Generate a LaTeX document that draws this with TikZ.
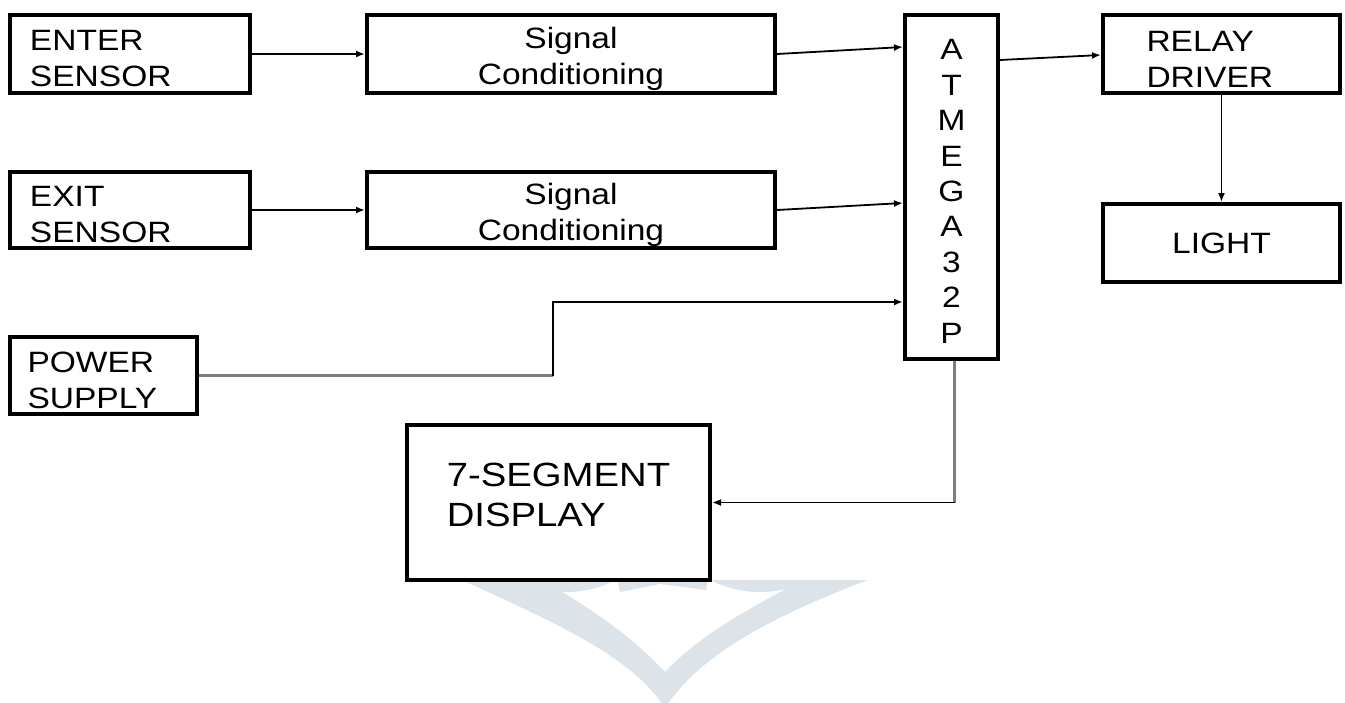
\documentclass[tikz,border=0pt]{standalone}
\usepackage{fontspec}
\setmainfont[FakeStretch=1.14]{Liberation Sans}
\usetikzlibrary{arrows.meta,calc}
\definecolor{wmark}{RGB}{221,228,233}
\definecolor{feed}{RGB}{125,125,125}
\newcommand\capgap[1]{\rule{0pt}{#1}}

\begin{document}
\begin{tikzpicture}[x=0.5pt,y=-0.5pt,
  blk/.style={draw,line width=2pt,inner sep=0pt,font=\fontsize{14.7}{18}\selectfont},
  capdrop/.style={execute at begin node={\rule{0pt}{#1}}},
  sig/.style={-{Latex[length=4.5pt,width=3.5pt]},line width=0.9pt},
  pwr/.style={draw=feed,line width=1.6pt}]
  \useasboundingbox (0,0) rectangle (1345,702);
  % faint mark under the display block
  \begin{scope}
    \clip (0,580) rectangle (1345,702);
    \fill[wmark] (440,570) .. controls (560,625) and (630,655) .. (665,708)
      .. controls (700,655) and (770,615) .. (895,570) -- (822,570)
      .. controls (745,610) and (700,635) .. (665,672)
      .. controls (630,635) and (595,610) .. (525,570) -- cycle;
    \fill[wmark] (566,482) circle (110);
    \fill[wmark] (617,578) -- (620,592) -- (660,584) -- (706,590) -- (708,578) -- cycle;
    \fill[wmark] (760,482) circle (110);
  \end{scope}
  % blocks
  \node[blk,capdrop=15pt,minimum width=120pt,minimum height=39pt,text width=100pt,align=left] (enter) at (130,54) {ENTER\\SENSOR};
  \node[blk,minimum width=204pt,minimum height=39pt,align=center] (sc1) at (571,54) {\capgap{16pt}Signal\\Conditioning};
  \node[blk,capdrop=15pt,minimum width=120pt,minimum height=38pt,text width=100pt,align=left] (exit) at (130,210) {EXIT\\SENSOR};
  \node[blk,minimum width=204pt,minimum height=38pt,align=center] (sc2) at (571,210) {\capgap{16pt}Signal\\Conditioning};
  \node[blk,minimum width=46.5pt,minimum height=172pt,align=center,font=\fontsize{14.7}{17.7}\selectfont] (atmega) at (951.5,187) {\capgap{14.5pt}A\\T\\M\\E\\G\\A\\3\\2\\P};
  \node[blk,capdrop=15pt,minimum width=118.5pt,minimum height=39pt,text width=75pt,align=left] (relay) at (1221.5,54) {RELAY\\DRIVER};
  \node[blk,minimum width=118.5pt,minimum height=39pt] (light) at (1221.5,243) {LIGHT};
  \node[blk,capdrop=15.5pt,minimum width=93.5pt,minimum height=38.5pt,text width=76pt,align=left] (power) at (103.5,375.5) {POWER\\SUPPLY};
  \node[blk,minimum width=151.5pt,minimum height=77.5pt,align=left,text depth=7.5pt,font=\fontsize{16.8}{20}\selectfont] (seg) at (558.5,502.5) {7-SEGMENT\\DISPLAY};
  % links
  \draw[sig] (enter) -- (sc1);
  \draw[sig] (exit) -- (sc2);
  \draw[sig] (sc1.east) -- ($(atmega.north west)+(0,34)$);
  \draw[sig] (sc2.east) -- ($(atmega.north west)+(0,190)$);
  \coordinate (pin) at ($(atmega.north west)+(0,289)$);
  \draw[pwr] (power.east) -- ++(354,0) coordinate (bend);
  \draw[sig] (bend) |- (pin);
  \coordinate (tap) at ($(atmega.south)+(3,0)$);
  \draw[pwr] (tap) -- (tap |- seg.east) coordinate (turn);
  \draw[sig] (turn) -- (seg.east);
  \draw[sig] ($(atmega.north east)+(0,47)$) -- ($(relay.north west)+(0,42)$);
  \draw[sig] (relay) -- (light);
\end{tikzpicture}
\end{document}
